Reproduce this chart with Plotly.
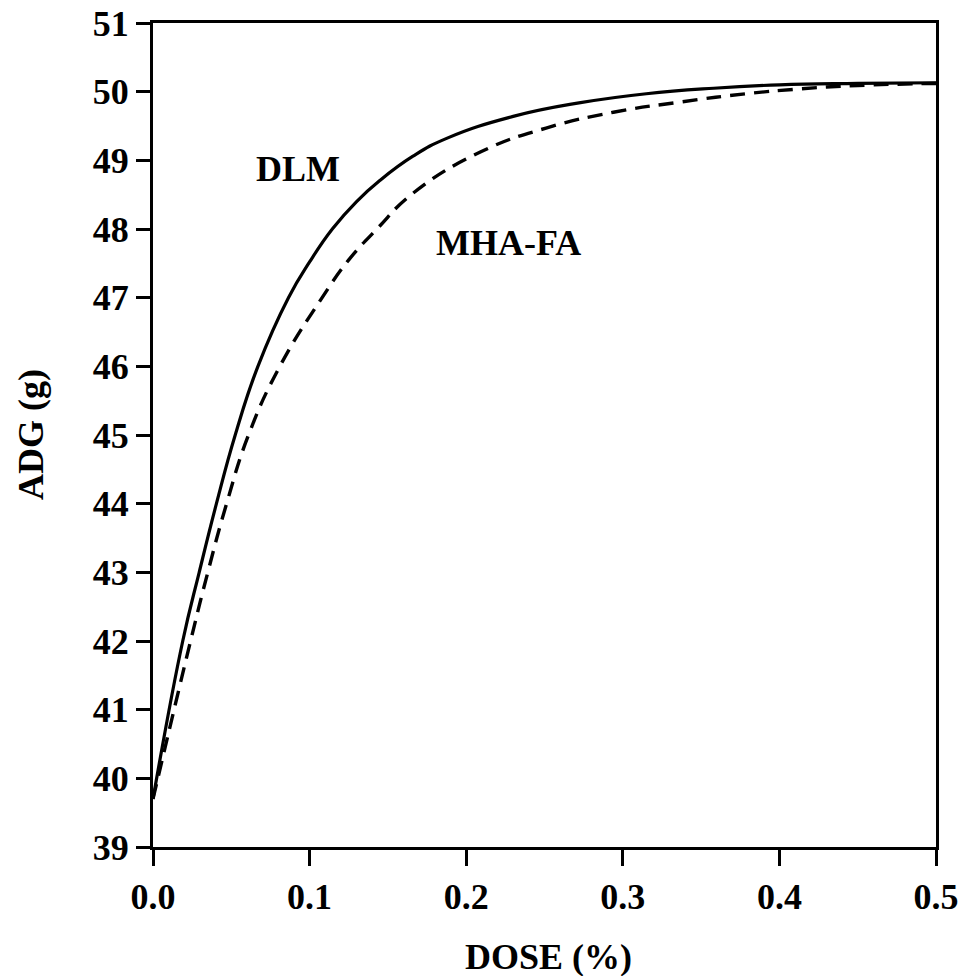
import plotly.graph_objects as go

# Average daily gain response to dietary dose for two methionine sources
dose_dlm = [0.0, 0.019, 0.0295, 0.0405, 0.0525, 0.067, 0.0865, 0.100, 0.1145, 0.130,
            0.145, 0.166, 0.1875, 0.23, 0.273, 0.315, 0.358, 0.40, 0.45, 0.5]
adg_dlm = [39.7, 42.0, 43.0, 44.0, 45.0, 46.0, 47.0, 47.52, 48.0, 48.40,
           48.71, 49.06, 49.32, 49.64, 49.84, 49.97, 50.05, 50.10, 50.12, 50.13]

dose_mha = [0.0, 0.024, 0.035, 0.047, 0.061, 0.081, 0.108, 0.125, 0.143, 0.166,
            0.209, 0.251, 0.294, 0.337, 0.379, 0.413, 0.45, 0.5]
adg_mha = [39.7, 42.0, 43.0, 44.0, 45.0, 46.0, 47.0, 47.55, 48.0, 48.52,
           49.12, 49.47, 49.70, 49.85, 49.97, 50.04, 50.09, 50.12]

x_ticks = [0.0, 0.1, 0.2, 0.3, 0.4, 0.5]
x_labels = ["0.0", "0.1", "0.2", "0.3", "0.4", "0.5"]
y_ticks = list(range(39, 52))

FONT = "Liberation Serif, Times New Roman, serif"
bold = dict(family=FONT, size=36, color="black", weight="bold")

# plot area in pixels
W, H = 965, 976
ML, MR, MT, MB = 153, 29, 23, 129
PW, PH = W - ML - MR, H - MT - MB

fig = go.Figure()
fig.add_trace(go.Scatter(
    x=dose_dlm, y=adg_dlm, mode="lines", name="DLM",
    line=dict(color="black", width=3.2, shape="spline", smoothing=1.3),
))
fig.add_trace(go.Scatter(
    x=dose_mha, y=adg_mha, mode="lines", name="MHA-FA",
    line=dict(color="black", width=3.4, dash="15px,9px", shape="spline", smoothing=1.3),
))

fig.add_annotation(x=0.0923, y=48.87, text="DLM", showarrow=False, font=bold)
fig.add_annotation(x=0.2273, y=47.80, text="MHA-FA", showarrow=False, font=bold)

# axis titles
fig.add_annotation(
    xref="paper", yref="paper", x=(548 - ML) / PW, y=-(957 - (MT + PH)) / PH,
    xanchor="center", yanchor="middle", text="DOSE (%)", showarrow=False, font=bold,
)
fig.add_annotation(
    xref="paper", yref="paper", x=(31 - ML) / PW, y=0.5,
    xanchor="center", yanchor="middle", textangle=-90,
    text="ADG (g)", showarrow=False, font=bold,
)

axis_common = dict(
    showline=True, linecolor="black", linewidth=3, mirror=True,
    ticks="outside", tickcolor="black", tickwidth=3,
    showgrid=False, zeroline=False, tickfont=bold, automargin=False,
)

fig.update_xaxes(range=[0, 0.5], tickvals=x_ticks, ticktext=x_labels, ticklen=16, **axis_common)
fig.update_yaxes(range=[39, 51], tickvals=y_ticks, ticklen=14, **axis_common)

fig.update_layout(
    width=W, height=H,
    margin=dict(l=ML, r=MR, t=MT, b=MB),
    plot_bgcolor="white", paper_bgcolor="white",
    showlegend=False,
)

fig.write_html("out.html")
